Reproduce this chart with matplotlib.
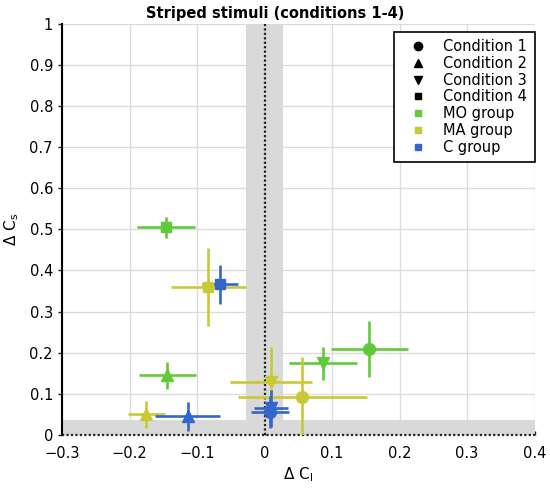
import matplotlib
matplotlib.use("Agg")
import matplotlib.pyplot as plt
from matplotlib.lines import Line2D

# ---- data ----
groups = ["MO group", "MA group", "C group"]
group_colors = ["#62c93a", "#c9c935", "#3366cc"]
conditions = ["Condition 1", "Condition 2", "Condition 3", "Condition 4"]
cond_markers = ["o", "^", "v", "s"]

# per group: values for conditions 1..4
mo_x = [0.155, -0.144, 0.087, -0.146]
mo_xerr = [0.057, 0.042, 0.050, 0.043]
mo_y = [0.210, 0.145, 0.174, 0.505]
mo_yerr = [0.068, 0.033, 0.041, 0.025]

ma_x = [0.056, -0.175, 0.010, -0.083]
ma_xerr = [0.096, 0.027, 0.061, 0.056]
ma_y = [0.092, 0.050, 0.130, 0.360]
ma_yerr = [0.098, 0.032, 0.085, 0.095]

c_x = [0.008, -0.114, 0.010, -0.066]
c_xerr = [0.028, 0.048, 0.025, 0.027]
c_y = [0.056, 0.045, 0.065, 0.366]
c_yerr = [0.040, 0.035, 0.045, 0.048]

xticks = [-0.3, -0.2, -0.1, 0, 0.1, 0.2, 0.3, 0.4]
yticks = [0, 0.1, 0.2, 0.3, 0.4, 0.5, 0.6, 0.7, 0.8, 0.9, 1]
band_half_width = 0.027
band_height = 0.037

series = [
    (mo_x, mo_xerr, mo_y, mo_yerr),
    (ma_x, ma_xerr, ma_y, ma_yerr),
    (c_x, c_xerr, c_y, c_yerr),
]

plt.rcParams["font.family"] = ["DejaVu Sans"]
fig = plt.figure(figsize=(5.5, 4.92), dpi=100)
ax = fig.add_axes([62 / 550, 1 - 435 / 492, (534.5 - 62) / 550, (435 - 23.7) / 492])

ax.set_xlim(-0.3, 0.4)
ax.set_ylim(0, 1)
ax.set_axisbelow(True)
ax.grid(True, color="#dcdcdc", lw=1.0)

ax.axvspan(-band_half_width, band_half_width, color="#d9d9d9", lw=0, zorder=1)
ax.axhspan(0, band_height, color="#d9d9d9", lw=0, zorder=1)
ax.axvline(0, color="#222222", ls=(0, (1, 1)), lw=1.6, zorder=2)
ax.axhline(0, color="#222222", ls=(0, (1, 1)), lw=1.6, zorder=2, clip_on=False)

for (xs, xe, ys, ye), col in zip(series, group_colors):
    for i, m in enumerate(cond_markers):
        ax.errorbar(xs[i], ys[i], xerr=xe[i], yerr=ye[i], fmt=m, color=col,
                    ms=8.5 if m != "s" else 7, elinewidth=1.9, capsize=0,
                    mec=col, zorder=3)

for s in ["top", "right", "bottom"]:
    ax.spines[s].set_visible(False)
ax.spines["left"].set_linewidth(1.5)
ax.set_xticks(xticks)
ax.set_yticks(yticks)
ax.set_xticklabels(["\u22120.3", "\u22120.2", "\u22120.1", "0", "0.1", "0.2", "0.3", "0.4"])
ax.set_yticklabels(["0", "0.1", "0.2", "0.3", "0.4", "0.5", "0.6", "0.7", "0.8", "0.9", "1"])
ax.tick_params(axis="both", labelsize=10.5, length=3, width=1, color="#222222")
ax.tick_params(axis="x", direction="in", pad=8)

ax.set_xlabel("Δ C$_\\mathregular{l}$", fontsize=11, labelpad=3)
ax.set_ylabel("Δ C$_\\mathregular{s}$", fontsize=11, labelpad=6)
fig.text(0.5, 0.972, "Striped stimuli (conditions 1-4)", ha="center", va="center",
         fontsize=10.5, fontweight="bold")

handles = []
for c, m in zip(conditions, cond_markers):
    handles.append(Line2D([], [], ls="none", marker=m, color="black",
                          ms=6 if m != "s" else 5, label=c))
for g, col in zip(groups, group_colors):
    handles.append(Line2D([], [], ls="none", marker="s", color=col, ms=5, label=g))
leg = ax.legend(handles=handles, loc="upper right", bbox_to_anchor=(1.0, 0.98),
                borderaxespad=0, fontsize=10.5, frameon=True, fancybox=False,
                edgecolor="black", framealpha=1, handlelength=2.4,
                handletextpad=0.5, labelspacing=0.12, borderpad=0.5)
leg.get_frame().set_linewidth(1.2)
leg.set_zorder(5)

fig.savefig("out.png", dpi=100)
